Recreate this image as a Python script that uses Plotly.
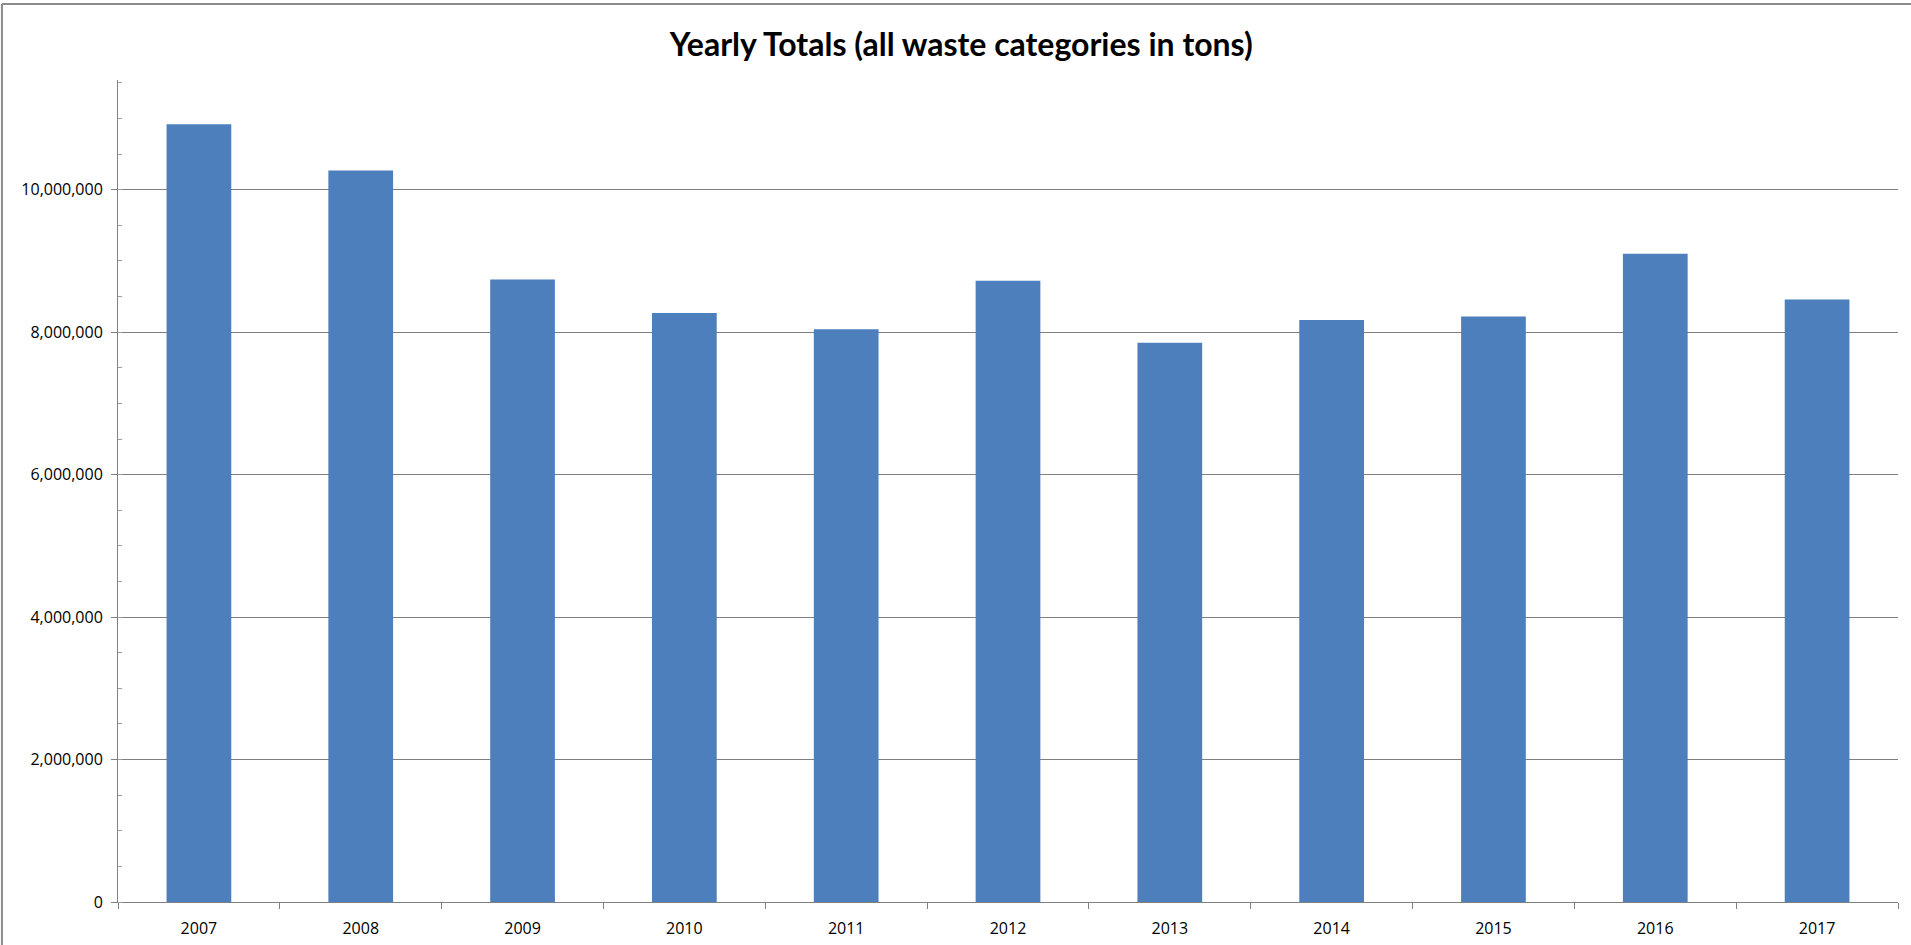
import plotly.graph_objects as go

years = ["2007", "2008", "2009", "2010", "2011", "2012", "2013", "2014", "2015", "2016", "2017"]
totals = [10920000, 10270000, 8740000, 8270000, 8040000, 8720000, 7850000, 8170000, 8220000, 9100000, 8460000]
y_tickvals = [0, 2000000, 4000000, 6000000, 8000000, 10000000]

fig = go.Figure()
fig.add_trace(go.Bar(
    x=years, y=totals,
    marker=dict(color="#4D7FBD", line=dict(width=0)),
))

fig.update_layout(
    width=1911, height=945,
    margin=dict(l=118, r=13, t=80, b=43),
    paper_bgcolor="white", plot_bgcolor="white",
    bargap=0.6,
    showlegend=False,
    title=dict(
        text="<b>Yearly Totals (all waste categories in tons)</b>",
        x=0.503, xanchor="center",
        y=1 - 45 / 945, yanchor="middle", yref="container",
        font=dict(family="Lato, Open Sans, sans-serif", size=32, color="#000000"),
    ),
    font=dict(family="Open Sans, sans-serif", size=16, color="#000000"),
)

fig.update_xaxes(
    type="category",
    automargin=False,
    showline=True, linecolor="#808080", linewidth=1,
    ticks="outside", tickson="boundaries", ticklen=6, tickcolor="#808080",
    showgrid=False,
    tickfont=dict(size=16),
    ticklabelstandoff=12,
)

fig.update_yaxes(
    range=[0, 11540000],
    automargin=False,
    tickvals=y_tickvals,
    tickformat=",d",
    showline=True, linecolor="#808080", linewidth=1,
    ticks="outside", ticklen=6, tickcolor="#808080",
    showgrid=True, gridcolor="#7f7f7f", gridwidth=1,
    zeroline=False,
    tickfont=dict(size=16),
    ticklabelstandoff=5,
    minor=dict(dtick=500000, ticks="inside", ticklen=4, tickcolor="#a0a0a0", showgrid=False),
)

# outer chart frame (top and left edges visible)
fig.add_shape(type="line", xref="paper", yref="paper", x0=-0.0652, x1=1.01, y0=1.0925, y1=1.0925,
              line=dict(color="#8c8c8c", width=2))
fig.add_shape(type="line", xref="paper", yref="paper", x0=-0.0652, x1=-0.0652, y0=-0.06, y1=1.0925,
              line=dict(color="#8c8c8c", width=2))

fig.write_html("out.html", config={"displayModeBar": False},
               post_script="document.body.style.margin='0';document.body.style.overflow='hidden';")
